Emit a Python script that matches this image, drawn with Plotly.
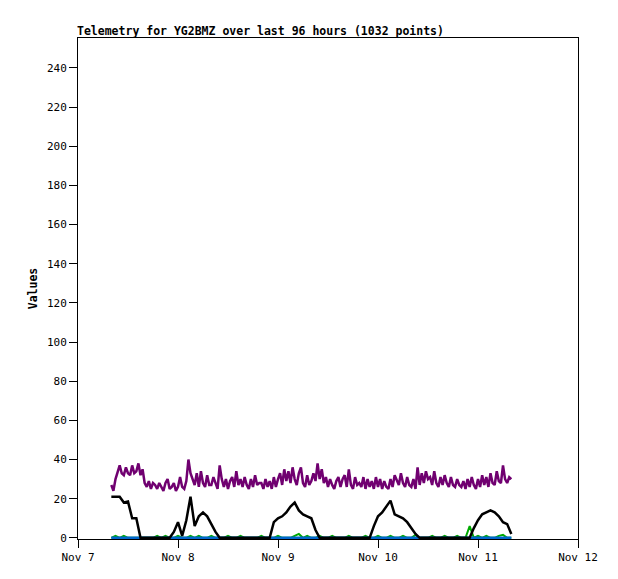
import plotly.graph_objects as go
import pandas as pd

start = pd.Timestamp("2023-11-07 08:00")

# Purple series, 30-min steps
purple_vals = [
    27, 24, 30, 33, 37, 33, 32, 36, 33, 32, 37, 33, 34, 38, 32, 35, 28, 26, 29, 25, 28, 27, 25, 28,
    26, 24, 28, 30, 25, 26, 28, 24, 26, 31, 26, 25, 29, 40, 33, 30, 27, 33, 26, 34, 28, 26, 32, 27,
    27, 31, 28, 25, 37, 30, 26, 30, 25, 29, 31, 26, 34, 27, 30, 26, 31, 27, 25, 30, 26, 32, 27, 28,
    28, 25, 30, 26, 29, 25, 31, 26, 30, 33, 27, 35, 29, 34, 28, 36, 30, 27, 33, 36, 28, 26, 32, 27,
    29, 33, 29, 38, 30, 35, 28, 31, 26, 30, 27, 25, 29, 31, 26, 30, 32, 26, 35, 27, 25, 31, 27, 28,
    26, 31, 25, 30, 26, 29, 25, 31, 26, 30, 25, 29, 26, 25, 30, 26, 32, 29, 27, 33, 28, 26, 31, 27,
    26, 30, 25, 36, 27, 33, 28, 34, 30, 31, 27, 34, 28, 26, 31, 27, 32, 28, 26, 31, 27, 26, 30, 27,
    26, 29, 25, 30, 26, 31, 27, 25, 30, 26, 32, 27, 31, 26, 33, 28, 27, 34, 29, 28, 37, 30, 28, 31,
    30,
]
purple_times = [start + pd.Timedelta(minutes=30 * i) for i in range(len(purple_vals))]

# Black series, hourly steps
black_vals = [
    21, 21, 21, 18, 18.5, 10, 10, 0, 0, 0, 0, 0, 0, 0, 0, 3, 8, 1, 9, 21, 6, 11, 13, 11,
    7, 3, 0, 0, 0, 0, 0, 0, 0, 0, 0, 0, 0, 0, 0, 8, 10, 11, 13, 16, 18, 14, 12, 11,
    10, 4, 0, 0, 0, 0, 0, 0, 0, 0, 0, 0, 0, 0, 0, 6, 11, 13, 16, 19, 12, 11, 10, 8,
    5, 2, 0, 0, 0, 0, 0, 0, 0, 0, 0, 0, 0, 0, 0, 5, 9, 12, 13, 14, 13, 11, 8, 7,
    2,
]
black_times = [start + pd.Timedelta(hours=i) for i in range(len(black_vals))]

# Green series, hourly steps
green_vals = [
    0, 1, 0, 1, 0, 0, 0, 0, 0, 0, 0, 1, 0, 1, 0, 0, 1, 0, 0, 1, 0, 1, 0, 0,
    1, 0, 0, 0, 1, 0, 0, 1, 0, 0, 0, 0, 1, 0, 0, 0, 1, 0, 0, 0, 1, 2, 0, 1,
    0, 0, 1, 0, 0, 1, 0, 0, 0, 1, 0, 0, 0, 1, 0, 0, 1, 0, 0, 1, 0, 0, 1, 0,
    0, 1.5, 0, 0, 0, 1, 0, 0, 1, 0, 0, 1, 0, 0, 6, 0, 1, 0, 1, 0, 0, 1, 1.5, 0,
    0,
]
green_times = [start + pd.Timedelta(hours=i) for i in range(len(green_vals))]

# Blue series, flat
blue_vals = [0, 0]
blue_times = [start, start + pd.Timedelta(hours=96)]

x_ticks = [pd.Timestamp(f"2023-11-{d:02d}") for d in range(7, 13)]
x_labels = ["Nov 7", "Nov 8", "Nov 9", "Nov 10", "Nov 11", "Nov 12"]

mono = "DejaVu Sans Mono"

fig = go.Figure()
fig.add_trace(go.Scatter(x=green_times, y=green_vals, mode="lines",
                         line=dict(color="#00aa00", width=2)))
fig.add_trace(go.Scatter(x=blue_times, y=blue_vals, mode="lines",
                         line=dict(color="#0066cc", width=2.5)))
fig.add_trace(go.Scatter(x=black_times, y=black_vals, mode="lines",
                         line=dict(color="#000000", width=2.5)))
fig.add_trace(go.Scatter(x=purple_times, y=purple_vals, mode="lines",
                         line=dict(color="#700070", width=2.5)))

fig.update_layout(
    width=610, height=571,
    margin=dict(l=70, r=40, t=30, b=40),
    paper_bgcolor="white", plot_bgcolor="white",
    showlegend=False,
    title=dict(text="<b>Telemetry for YG2BMZ over last 96 hours (1032 points)</b>",
               x=69 / 610, xanchor="left", y=1 - 23 / 571, yanchor="middle",
               font=dict(family=mono, size=11.5, color="black")),
    font=dict(family=mono, size=10, color="black"),
)
fig.update_xaxes(
    range=[x_ticks[0], x_ticks[-1]], tickvals=x_ticks, ticktext=x_labels,
    showgrid=False, zeroline=False, showline=True, linecolor="black", linewidth=1,
    mirror=True, ticks="outside", ticklen=8, tickcolor="black",
    tickfont=dict(family=mono, size=11),
)
fig.update_yaxes(
    range=[-0.6, 255.3], tickvals=list(range(0, 241, 20)),
    showgrid=False, zeroline=False, showline=True, linecolor="black", linewidth=1,
    mirror=True, ticks="outside", ticklen=8, tickcolor="black",
    tickfont=dict(family=mono, size=11),
    title=dict(text="<b>Values</b>", font=dict(family=mono, size=11.5), standoff=6),
)

fig.write_html("out.html")
